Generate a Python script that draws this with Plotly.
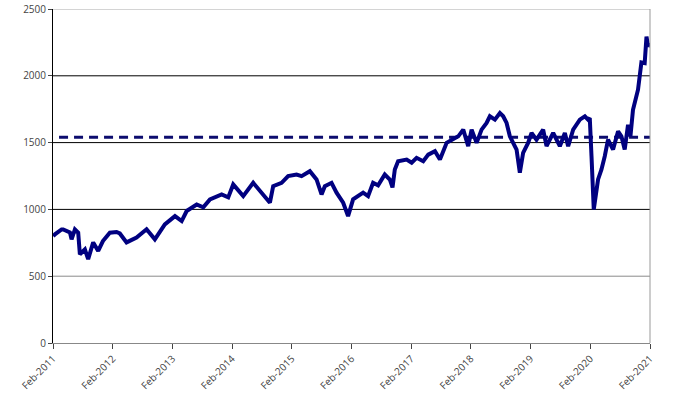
import plotly.graph_objects as go
from datetime import datetime, timedelta

# decimal-year positions of readings and index values
years = [2011.088, 2011.117, 2011.229, 2011.256, 2011.368, 2011.396, 2011.452, 2011.507, 2011.535,
         2011.619, 2011.674, 2011.758, 2011.842, 2011.921, 2012.038, 2012.150, 2012.205, 2012.318,
         2012.485, 2012.653, 2012.792, 2012.959, 2013.127, 2013.239, 2013.323, 2013.490, 2013.601,
         2013.713, 2013.909, 2014.020, 2014.103, 2014.216, 2014.271, 2014.438, 2014.579, 2014.718,
         2014.773, 2014.914, 2015.024, 2015.165, 2015.249, 2015.388, 2015.500, 2015.584, 2015.639,
         2015.751, 2015.835, 2015.946, 2016.029, 2016.113, 2016.281, 2016.364, 2016.448, 2016.532,
         2016.644, 2016.728, 2016.773, 2016.812, 2016.867, 2017.008, 2017.092, 2017.175, 2017.286,
         2017.370, 2017.482, 2017.566, 2017.678, 2017.789, 2017.873, 2017.956, 2018.040, 2018.097,
         2018.181, 2018.264, 2018.348, 2018.403, 2018.487, 2018.571, 2018.626, 2018.683, 2018.738,
         2018.793, 2018.850, 2018.905, 2018.960, 2019.044, 2019.102, 2019.185, 2019.296, 2019.353,
         2019.464, 2019.576, 2019.660, 2019.715, 2019.799, 2019.911, 2019.995, 2020.050, 2020.078,
         2020.107, 2020.145, 2020.217, 2020.274, 2020.329, 2020.384, 2020.468, 2020.552, 2020.608,
         2020.663, 2020.719, 2020.759, 2020.802, 2020.886, 2020.943, 2020.998, 2021.026, 2021.054,
         2021.083]
values = [800, 813, 850, 850, 828, 776, 850, 826, 664,
          700, 627, 753, 689, 763, 826, 831, 820, 753,
          790, 851, 776, 888, 950, 913, 988, 1037, 1015,
          1075, 1112, 1090, 1187, 1127, 1099, 1199, 1125, 1050,
          1174, 1199, 1249, 1261, 1249, 1286, 1224, 1112, 1174,
          1199, 1125, 1050, 950, 1075, 1125, 1099, 1199, 1180,
          1261, 1224, 1164, 1299, 1361, 1373, 1349, 1386, 1361,
          1410, 1436, 1373, 1498, 1522, 1547, 1597, 1473, 1597,
          1498, 1597, 1647, 1697, 1672, 1722, 1697, 1647, 1547,
          1498, 1448, 1274, 1423, 1498, 1572, 1522, 1597, 1473,
          1572, 1473, 1572, 1473, 1597, 1672, 1697, 1672, 1684,
          1398, 1000, 1224, 1299, 1398, 1522, 1448, 1585, 1547,
          1448, 1634, 1547, 1746, 1896, 2100, 2095, 2294, 2219,
          2245]

average_value = 1540
average_span = ["2011-03-10", "2021-02-01"]
tick_dates = [f"{y}-02-01" for y in range(2011, 2022)]
tick_labels = [f"Feb-{y}" for y in range(2011, 2022)]
y_ticks = [0, 500, 1000, 1500, 2000, 2500]


def to_date(t):
    y = int(t)
    return datetime(y, 1, 1) + timedelta(days=(t - y) * 365.25)


dates = [to_date(t) for t in years]

fig = go.Figure()

# gridlines (the lightest ones rendered grey in the reference)
grid_colors = {500: "#8a8a8a", 2500: "#aaaaaa"}
for v in y_ticks[1:]:
    fig.add_shape(type="line", xref="paper", yref="y", x0=0, x1=1, y0=v, y1=v,
                  line=dict(color=grid_colors.get(v, "#000000"), width=1), layer="below")

fig.add_trace(go.Scatter(x=average_span, y=[average_value, average_value], mode="lines",
                         line=dict(color="#0c0c6e", width=3, dash="9px,6px"),
                         hoverinfo="skip", showlegend=False))
fig.add_trace(go.Scatter(x=dates, y=values, mode="lines",
                         line=dict(color="#000080", width=4),
                         showlegend=False))

fig.add_shape(type="line", xref="paper", yref="paper", x0=1, x1=1, y0=0, y1=1,
              line=dict(color="#999999", width=1))

fig.update_layout(
    width=680, height=395,
    margin=dict(l=53, r=30, t=8.5, b=51.5),
    paper_bgcolor="white", plot_bgcolor="white",
    font=dict(family="Open Sans", size=10, color="#444444"),
)
fig.update_xaxes(
    range=["2011-02-01", "2021-02-01"], tickvals=tick_dates, ticktext=tick_labels,
    tickangle=-45, showgrid=False, showline=True, linecolor="#888888", linewidth=1,
    ticks="outside", ticklen=5, tickcolor="#444444", zeroline=False, automargin=False,
)
fig.update_yaxes(
    range=[0, 2500], tickvals=y_ticks, showgrid=False,
    showline=True, linecolor="#000000", linewidth=1, ticks="outside", ticklen=4,
    tickcolor="#444444", zeroline=False, automargin=False,
)

fig.write_html("out.html", config={"displayModeBar": False},
               post_script="document.body.style.margin='0';document.body.style.overflow='hidden';")
